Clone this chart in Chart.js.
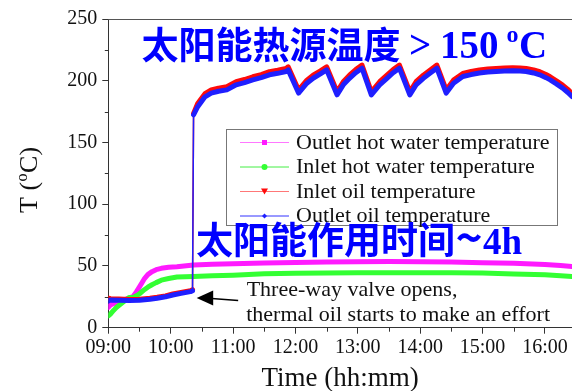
<!DOCTYPE html>
<html>
<head>
<meta charset="utf-8">
<script src="https://cdn.jsdelivr.net/npm/chart.js@4.4.0/dist/chart.umd.min.js"></script>
<style>
  html, body { margin: 0; padding: 0; background: #ffffff; }
  canvas { display: block; }
</style>
</head>
<body>
<canvas id="chart" width="572" height="391"></canvas>
<script>
// Hot-water loop readings (clock time, °C)
const waterTimes = ["09:00","09:02","09:05","09:08","09:14","09:20","09:24","09:27","09:30","09:35","09:38","09:42","09:46","09:51","09:58","10:06","10:22","10:40","11:00","11:30","12:00","12:30","13:00","13:30","14:00","14:30","15:00","15:30","16:00","16:15","16:26"];
const outletWater = [16.5,18.4,19.5,20.5,22.4,24,25.5,29,33,40,43,45.4,47,48.1,48.9,49.4,50.8,51.3,51.8,52.4,52.8,53.2,53.5,53.6,53.4,53.2,52.7,52.2,51.2,50.3,49.5];
const inletWater  = [9.5,11,14,16.5,20.5,24.5,24.5,25.8,27.5,31,32.8,34.8,36.5,38.5,39.8,41,41.5,42,42.5,43.6,44,44.3,44.5,44.6,44.6,44.5,44.2,43.5,42.8,42,41.5];

// Thermal-oil loop readings (clock time, °C)
const oilTimes = ["09:00","09:02","09:10","09:20","09:30","09:40","09:47","09:55","10:02","10:10","10:19","10:21","10:22","10:26","10:33","10:39","10:46","10:54","11:03","11:11","11:19","11:27","11:35","11:43","11:51","11:53","12:03","12:11","12:17","12:24","12:30","12:40","12:46","12:52","12:58","13:04","13:13","13:21","13:28","13:34","13:40","13:50","13:56","14:03","14:10","14:16","14:25","14:32","14:41","14:49","14:57","15:05","15:13","15:21","15:29","15:36","15:42","15:49","15:55","16:01","16:05","16:11","16:17","16:22","16:26"];
const inletOil  = [24,23.5,23.2,22.8,23,23.8,24.6,25.8,27.3,28.6,30,30.8,173.5,181.5,189.5,192.5,194,195.1,199.2,201,203.2,205,207.3,208.5,210,211.3,192.5,200.5,204.5,208,211.3,191.1,199.2,204.5,209,212.7,191.1,199.2,204.5,209,212.7,191.1,199.2,204.5,209,212.7,192.5,200.5,205.9,207.5,208.7,209.5,210,210.3,210.5,210.3,210,208.8,207.3,205,203.2,200,196.5,193,189.7];
const outletOil = [21.5,22.5,22.3,22,22.2,23,23.8,25,26.5,27.8,29.2,30,172.4,179,187,190,191.5,192.6,196.7,198.5,200.7,202.5,204.8,206,207.5,208.8,190,198,202,205.5,208.8,188.6,196.7,202,206.5,210.2,188.6,196.7,202,206.5,210.2,188.6,196.7,202,206.5,210.2,190,198,203.4,205,206.2,207,207.5,207.8,208,207.8,207.5,206.3,204.8,202.5,200.7,197.5,194,190.5,187.2];

// Axis ticks
const xTickLabels = ["09:00","10:00","11:00","12:00","13:00","14:00","15:00","16:00"];
const yTickValues = [0,50,100,150,200,250];
const xRange = ["09:00","16:26"];

// Arrow annotation anchor (clock time, °C)
const arrowTip = { time: "10:25", value: 24 };

const SERIF = '"Liberation Serif", "Times New Roman", serif';
const CJK = '"Noto Sans CJK SC", sans-serif';

function toMin(t) { const p = t.split(':').map(Number); return p[0] * 60 + p[1]; }
function fmtMin(v) {
  const h = Math.floor(v / 60), m = Math.round(v % 60);
  return String(h).padStart(2, '0') + ':' + String(m).padStart(2, '0');
}
function points(times, vals) { return times.map((t, i) => ({ x: toMin(t), y: vals[i] })); }

// Thin stroke for the near-vertical switch-over step, thick elsewhere
const segWidth = { borderWidth: c => Math.abs(c.p1.parsed.y - c.p0.parsed.y) > 80 ? 1.5 : 5 };

const series = {
  outletWater: { label: 'Outlet hot water temperature', color: '#ff1aff', legendColor: '#ff77ff', marker: 'square' },
  inletWater:  { label: 'Inlet hot water temperature',  color: '#33ff33', legendColor: '#44ee44', marker: 'circle' },
  inletOil:    { label: 'Inlet oil temperature',        color: '#ff0a0a', legendColor: '#ff7777', marker: 'triangleDown' },
  outletOil:   { label: 'Outlet oil temperature',       color: '#1f1fff', legendColor: '#3333ff', marker: 'diamond' }
};
const legendOrder = ['outletWater', 'inletWater', 'inletOil', 'outletOil'];

function ds(key, data) {
  return {
    label: series[key].label,
    data: data,
    borderColor: series[key].color,
    backgroundColor: series[key].color,
    borderWidth: 5,
    pointRadius: 0,
    fill: false,
    segment: segWidth
  };
}

// Axis frame: top border, half-step minor ticks and the rotated y title
const framePlugin = {
  id: 'frame',
  afterDraw(chart) {
    const { ctx, chartArea: a, scales: { x, y } } = chart;
    ctx.save();
    ctx.strokeStyle = '#555';
    ctx.lineWidth = 1;
    ctx.beginPath();
    ctx.moveTo(a.left, a.top + 0.5);
    ctx.lineTo(a.right, a.top + 0.5);
    ctx.stroke();
    ctx.strokeStyle = '#333';
    ctx.beginPath();
    for (let i = 0; i < yTickValues.length - 1; i++) {
      const py = Math.round(y.getPixelForValue((yTickValues[i] + yTickValues[i + 1]) / 2)) + 0.5;
      ctx.moveTo(a.left - 3.5, py); ctx.lineTo(a.left, py);
    }
    for (let i = 0; i < xTickLabels.length; i++) {
      const v = toMin(xTickLabels[i]) + 30;
      if (v > x.max) break;
      const px = Math.round(x.getPixelForValue(v)) + 0.5;
      ctx.moveTo(px, a.bottom); ctx.lineTo(px, a.bottom + 4);
    }
    ctx.stroke();

    // y title "T (°C)" with a raised small o
    ctx.translate(37, 213);
    ctx.rotate(-Math.PI / 2);
    ctx.fillStyle = '#111';
    ctx.textBaseline = 'alphabetic';
    ctx.textAlign = 'left';
    ctx.font = '26px ' + SERIF;
    ctx.fillText('T (', 0, 0);
    let cx = ctx.measureText('T (').width + 0.5;
    ctx.font = '16px ' + SERIF;
    ctx.fillText('o', cx, -10);
    cx += ctx.measureText('o').width + 0.5;
    ctx.font = '26px ' + SERIF;
    ctx.fillText('C)', cx, 0);
    ctx.restore();
  }
};

function drawMarker(ctx, kind, cx, cy, color) {
  ctx.fillStyle = color;
  ctx.beginPath();
  if (kind === 'square') ctx.rect(cx - 2.5, cy - 2.5, 5, 5);
  else if (kind === 'circle') ctx.arc(cx, cy, 3, 0, Math.PI * 2);
  else if (kind === 'triangleDown') { ctx.moveTo(cx - 3.5, cy - 3); ctx.lineTo(cx + 3.5, cy - 3); ctx.lineTo(cx, cy + 3); ctx.closePath(); }
  else if (kind === 'diamond') { ctx.moveTo(cx, cy - 2.5); ctx.lineTo(cx + 2.5, cy); ctx.lineTo(cx, cy + 2.5); ctx.lineTo(cx - 2.5, cy); ctx.closePath(); }
  ctx.fill();
}

// Draw text so that its ink starts at inkLeft
function inkText(ctx, str, font, inkLeft, baseline) {
  ctx.font = font;
  const m = ctx.measureText(str);
  const x = inkLeft + m.actualBoundingBoxLeft;
  ctx.fillText(str, x, baseline);
  return x + m.actualBoundingBoxRight;
}

const notesPlugin = {
  id: 'notes',
  afterDraw(chart) {
    const { ctx, scales: { x, y } } = chart;
    ctx.save();

    // Legend box
    const box = { l: 226.5, t: 129.5, r: 557.5, b: 225.5 };
    ctx.strokeStyle = '#777';
    ctx.lineWidth = 1;
    ctx.strokeRect(box.l, box.t, box.r - box.l, box.b - box.t);
    const rows = [142, 166.5, 191, 215.5];
    ctx.textBaseline = 'middle';
    ctx.textAlign = 'left';
    legendOrder.forEach((key, i) => {
      const s = series[key], ry = rows[i];
      ctx.strokeStyle = s.legendColor;
      ctx.lineWidth = 1;
      ctx.beginPath(); ctx.moveTo(240, ry + 0.5); ctx.lineTo(289, ry + 0.5); ctx.stroke();
      drawMarker(ctx, s.marker, 264.5, ry + 0.5, s.color);
      ctx.fillStyle = '#111';
      ctx.font = '22px ' + SERIF;
      ctx.fillText(s.label, 296, ry + 1);
    });

    // Arrow pointing at the switch-over moment
    const tx = x.getPixelForValue(toMin(arrowTip.time));
    const ty = y.getPixelForValue(arrowTip.value);
    ctx.fillStyle = '#000';
    ctx.beginPath();
    ctx.moveTo(tx, ty); ctx.lineTo(tx + 16.5, ty - 7.5); ctx.lineTo(tx + 16.5, ty + 7.5); ctx.closePath();
    ctx.fill();
    ctx.strokeStyle = '#000';
    ctx.lineWidth = 1.5;
    ctx.beginPath(); ctx.moveTo(tx + 15, ty + 0.5); ctx.lineTo(tx + 41.5, ty + 2.5); ctx.stroke();
    ctx.textBaseline = 'alphabetic';
    ctx.fillStyle = '#111';
    ctx.font = '22px ' + SERIF;
    ctx.fillText('Three-way valve opens,', tx + 50, ty - 2);
    ctx.fillText('thermal oil starts to make an effort', tx + 49.5, ty + 23);

    // Blue captions
    ctx.fillStyle = '#0000ff';
    ctx.textBaseline = 'alphabetic';
    inkText(ctx, '太阳能热源温度', 'bold 37px ' + CJK, 141.5, 59);
    inkText(ctx, '>', 'bold 39px ' + SERIF, 410, 58);
    inkText(ctx, '150', 'bold 39px ' + SERIF, 443, 58);
    inkText(ctx, 'o', 'bold 24px ' + SERIF, 506.5, 42);
    inkText(ctx, 'C', 'bold 39px ' + SERIF, 520, 58);

    inkText(ctx, '太阳能作用时间', 'bold 37px ' + CJK, 196, 254);
    inkText(ctx, '~', 'bold 46px ' + CJK, 456.5, 255);
    inkText(ctx, '4h', 'bold 37px ' + SERIF, 483, 254);

    ctx.restore();
  }
};

new Chart(document.getElementById('chart'), {
  type: 'line',
  data: {
    datasets: [
      ds('outletOil', points(oilTimes, outletOil)),
      ds('inletOil', points(oilTimes, inletOil)),
      ds('inletWater', points(waterTimes, inletWater)),
      ds('outletWater', points(waterTimes, outletWater))
    ]
  },
  options: {
    responsive: false,
    animation: false,
    devicePixelRatio: 1,
    layout: { padding: { top: 19, right: 0, left: 0, bottom: 0 } },
    elements: { line: { tension: 0, borderJoinStyle: 'round', borderCapStyle: 'round' } },
    plugins: { legend: { display: false }, tooltip: { enabled: false } },
    scales: {
      x: {
        type: 'linear',
        min: toMin(xRange[0]),
        max: toMin(xRange[1]),
        afterBuildTicks: s => { s.ticks = xTickLabels.map(l => ({ value: toMin(l) })); },
        afterFit: s => { s.height = 63.3; },
        ticks: {
          callback: v => fmtMin(v),
          font: { family: SERIF, size: 20 },
          color: '#111',
          padding: 2,
          maxRotation: 0,
          autoSkip: false
        },
        grid: { drawOnChartArea: false, tickLength: 6, color: '#333' },
        border: { color: '#333', width: 1 },
        title: {
          display: true,
          text: 'Time (hh:mm)',
          font: { family: SERIF, size: 27, lineHeight: 0.9 },
          color: '#111',
          padding: { top: 0, bottom: 0 }
        }
      },
      y: {
        type: 'linear',
        min: 0,
        max: 250,
        afterBuildTicks: s => { s.ticks = yTickValues.map(v => ({ value: v })); },
        afterFit: s => { s.width = 108.3; },
        ticks: {
          font: { family: SERIF, size: 20 },
          color: '#111',
          padding: 5
        },
        grid: { drawOnChartArea: false, tickLength: 6, color: '#333' },
        border: { color: '#333', width: 1 },
        title: { display: false }
      }
    }
  },
  plugins: [framePlugin, notesPlugin]
});
</script>
</body>
</html>
